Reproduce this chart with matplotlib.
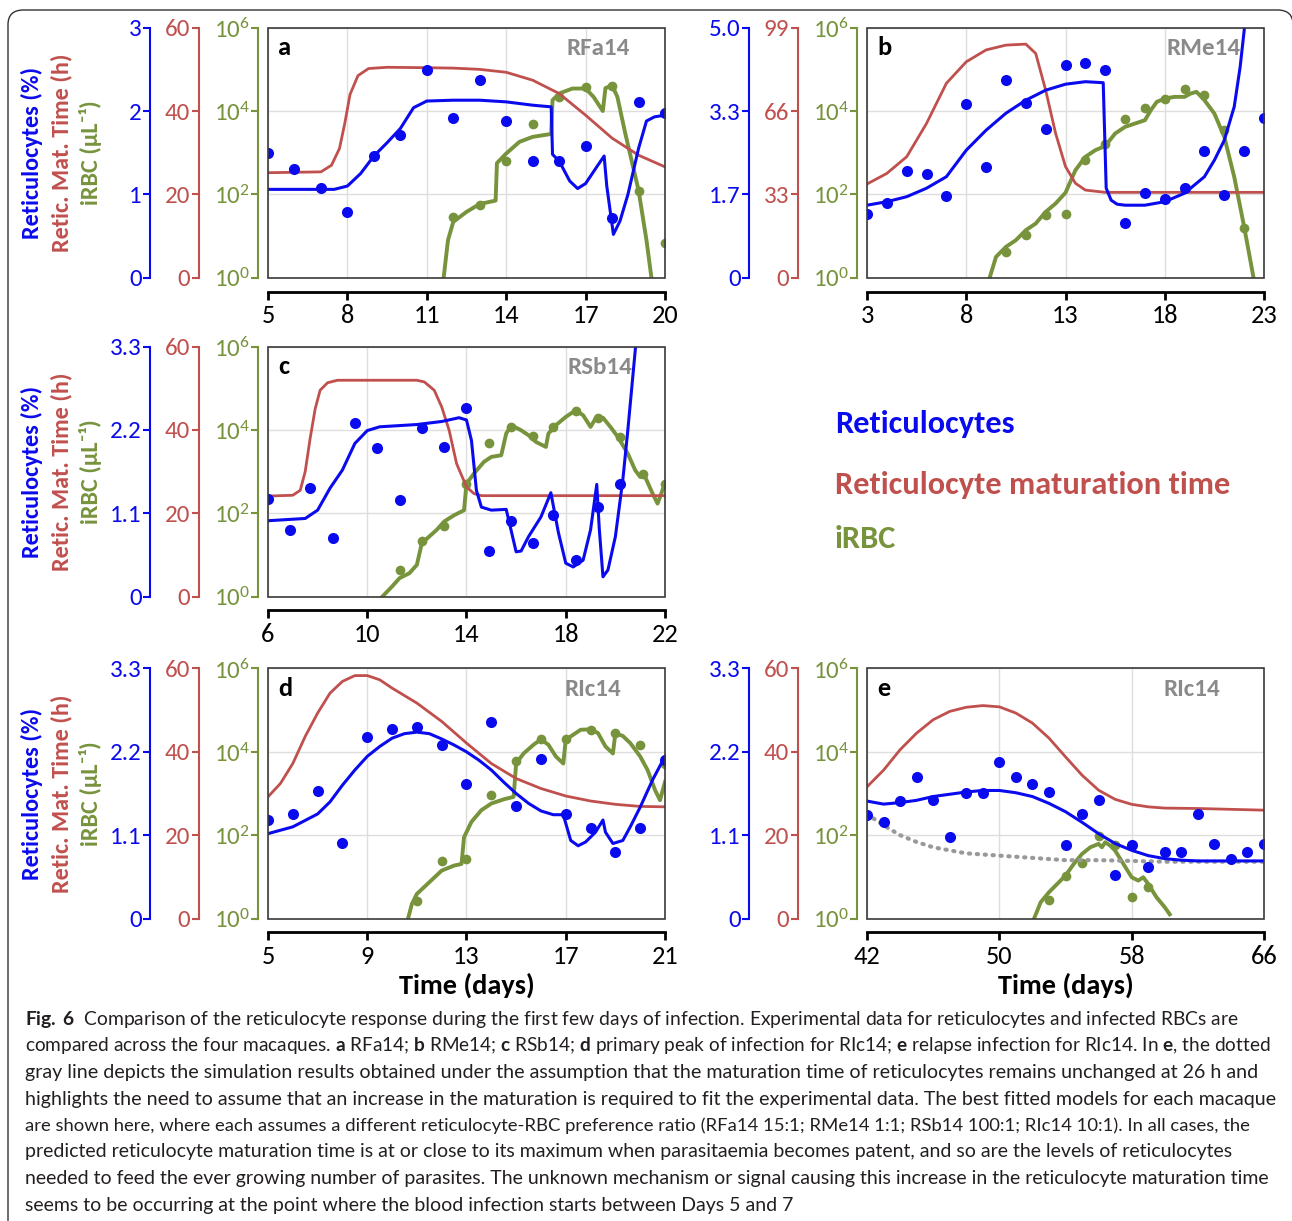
import numpy as np
import matplotlib
matplotlib.use('Agg')
import matplotlib.pyplot as plt
import matplotlib.ticker as mticker
from matplotlib import font_manager
from matplotlib.patches import FancyBboxPatch, Rectangle

# ---------------- data ----------------
# panel a (RFa14)
a_ret_day = [5, 6, 7, 8, 9, 10, 11, 12, 13, 14, 15, 16, 17, 18, 19, 20]
a_ret = [1.50, 1.30, 1.08, 0.79, 1.46, 1.71, 2.49, 1.92, 2.37, 1.88, 1.40, 1.40, 1.58, 0.72, 2.11, 1.98]
a_ret_fit_day = [5, 7.5, 8, 8.5, 9, 9.5, 10, 10.5, 11, 12, 13, 14, 15, 15.7, 15.75, 16, 16.4, 16.7, 17,
                 17.4, 17.7, 17.8, 18.05, 18.3, 18.6, 19.0, 19.3, 19.6, 20]
a_ret_fit = [1.06, 1.06, 1.10, 1.25, 1.46, 1.62, 1.79, 2.04, 2.12, 2.13, 2.13, 2.11, 2.07, 2.05, 1.48, 1.40,
             1.16, 1.07, 1.13, 1.32, 1.46, 1.10, 0.52, 0.68, 1.00, 1.55, 1.88, 1.93, 1.95]
a_mat_day = [5, 7.0, 7.4, 7.7, 7.9, 8.1, 8.4, 8.8, 9.5, 11, 12, 13, 14, 15, 16, 17, 18, 19, 20]
a_mat = [25.2, 25.4, 27.0, 31, 37, 44, 48.5, 50.2, 50.5, 50.4, 50.3, 50.0, 49.3, 47.4, 44.2, 39.0, 33.5, 29.4, 26.6]
a_irbc_day = [12, 13, 14, 15, 16, 17, 18, 19, 20]
a_irbc_log = [1.45, 1.74, 2.80, 3.68, 4.34, 4.57, 4.61, 2.08, 0.84]
a_irbc_fit_day = [11.6, 11.8, 12, 12.5, 13, 13.6, 13.65, 14, 14.5, 15, 15.7, 15.75, 16, 16.5, 17, 17.3,
                  17.65, 17.75, 18, 18.2, 18.5, 19, 19.3, 19.55]
a_irbc_fit_log = [-0.2, 0.9, 1.34, 1.58, 1.77, 1.85, 2.75, 2.98, 3.26, 3.38, 3.45, 4.26, 4.42, 4.54, 4.54,
                  4.34, 4.0, 4.55, 4.62, 4.34, 3.46, 2.10, 0.9, -0.3]

# panel b (RMe14)
b_ret_day = list(range(3, 24))
b_ret = [1.27, 1.50, 2.14, 2.08, 1.64, 3.47, 2.21, 3.95, 3.50, 2.98, 4.25, 4.30, 4.15, 1.09, 1.69, 1.57,
         1.79, 2.53, 1.65, 2.53, 3.20]
b_ret_fit_day = [3, 4, 5, 6, 7, 8, 9, 10, 11, 12, 13, 14, 14.9, 15.05, 15.3, 15.6, 16, 17, 18, 19, 20,
                 20.5, 21, 21.5, 21.8, 22.1]
b_ret_fit = [1.45, 1.52, 1.62, 1.79, 2.02, 2.55, 2.95, 3.29, 3.55, 3.75, 3.87, 3.92, 3.90, 1.79, 1.55,
             1.47, 1.45, 1.45, 1.52, 1.69, 2.02, 2.35, 2.75, 3.42, 4.22, 5.3]
b_mat_day = [3, 4, 5, 6, 7, 8, 9, 10, 11, 11.5, 12, 12.5, 13, 13.5, 14, 15, 23]
b_mat = [37.1, 41.3, 47.9, 61.1, 77, 85.5, 90.2, 92.1, 92.5, 88.8, 74.3, 57.2, 44, 37.4, 34.7, 33.8, 33.8]
b_irbc_day = [10, 11, 12, 13, 14, 15, 16, 17, 18, 19, 20, 21, 22]
b_irbc_log = [0.62, 1.02, 1.50, 1.53, 2.82, 3.22, 3.80, 4.08, 4.30, 4.52, 4.38, 3.54, 1.20]
b_irbc_fit_day = [9.05, 9.5, 10, 10.5, 11, 11.5, 12, 12.5, 13, 13.5, 14, 14.5, 15, 15.5, 16, 16.5, 17,
                  17.3, 17.6, 18, 18.5, 19, 19.3, 19.6, 20, 20.5, 21, 21.5, 22, 22.55]
b_irbc_fit_log = [-0.2, 0.50, 0.74, 0.90, 1.14, 1.30, 1.58, 1.78, 2.04, 2.58, 2.90, 3.06, 3.16, 3.46,
                  3.62, 3.70, 3.78, 4.02, 4.22, 4.30, 4.34, 4.34, 4.42, 4.46, 4.26, 3.94, 3.38, 2.42,
                  1.22, -0.2]

# panel c (RSb14)
c_ret_day = [6.0, 6.9, 7.7, 8.6, 9.5, 10.4, 11.3, 12.2, 13.1, 14.0, 14.9, 15.8, 16.7, 17.5, 18.4, 19.3, 20.2]
c_ret = [1.29, 0.88, 1.43, 0.77, 2.29, 1.96, 1.28, 2.22, 1.97, 2.49, 0.60, 1.00, 0.70, 1.08, 0.48, 1.18, 1.48]
c_ret_fit_day = [6, 7.5, 8, 8.5, 9, 9.5, 10, 10.5, 11, 12, 13, 13.7, 14, 14.2, 14.4, 14.6, 15, 15.6, 16.0,
                 16.2, 16.5, 17, 17.4, 17.7, 18, 18.3, 18.7, 19, 19.25, 19.35, 19.5, 19.7, 20, 20.3,
                 20.5, 20.9]
c_ret_fit = [1.00, 1.03, 1.14, 1.43, 1.67, 2.02, 2.19, 2.24, 2.25, 2.27, 2.31, 2.36, 2.33, 2.06, 1.40,
             1.18, 1.14, 1.15, 0.59, 0.60, 0.79, 1.05, 1.37, 0.85, 0.44, 0.39, 0.48, 0.88, 1.48, 0.90,
             0.26, 0.35, 0.79, 1.54, 2.19, 3.6]
c_mat_day = [6, 7, 7.3, 7.5, 7.7, 7.9, 8.1, 8.4, 8.8, 12, 12.3, 12.7, 13, 13.3, 13.6, 14, 14.3, 14.6, 22]
c_mat = [24.1, 24.3, 25.5, 30, 38, 45, 49.5, 51.3, 51.9, 51.9, 51.5, 49.5, 45.5, 39.9, 31.9, 26.3,
         24.7, 24.2, 24.2]
c_irbc_day = [11.3, 12.2, 13.1, 14.0, 14.9, 15.8, 16.7, 17.5, 18.4, 19.3, 20.2, 21.1, 22.0]
c_irbc_log = [0.64, 1.33, 1.70, 2.71, 3.69, 4.07, 3.85, 4.07, 4.45, 4.28, 3.83, 2.95, 2.71]
c_irbc_fit_day = [10.45, 11, 11.3, 11.7, 12, 12.2, 12.5, 12.8, 13.1, 13.5, 13.9, 14.0, 14.3, 14.7, 15.0,
                  15.4, 15.6, 15.8, 16.2, 16.5, 16.8, 17.2, 17.3, 17.6, 18, 18.4, 18.7, 19, 19.2, 19.5,
                  19.8, 20.1, 20.5, 20.8, 21.0, 21.2, 21.5, 21.7, 21.85, 22]
c_irbc_fit_log = [-0.1, 0.24, 0.44, 0.56, 0.76, 1.28, 1.44, 1.60, 1.80, 1.95, 2.07, 2.71, 2.95, 3.23,
                  3.35, 3.39, 3.91, 4.11, 3.99, 3.87, 3.71, 3.59, 3.91, 4.11, 4.31, 4.47, 4.35, 4.07,
                  4.27, 4.29, 4.07, 3.83, 3.43, 3.03, 2.87, 2.87, 2.47, 2.23, 2.47, 2.73]

# panel d (RIc14, primary peak)
d_ret_day = list(range(5, 22))
d_ret = [1.30, 1.38, 1.68, 1.00, 2.39, 2.50, 2.53, 2.29, 1.77, 2.60, 1.49, 2.10, 1.38, 1.19, 0.88, 1.19, 2.09]
d_ret_fit_day = [5, 6, 7, 7.5, 8, 8.5, 9, 9.5, 10, 10.5, 11, 11.5, 12, 12.5, 13, 13.5, 14, 14.5, 15, 15.5,
                 16, 16.5, 16.9, 17.2, 17.5, 17.8, 18.2, 18.5, 18.6, 18.9, 19.3, 19.6, 20, 20.5, 21]
d_ret_fit = [1.12, 1.21, 1.38, 1.54, 1.76, 1.96, 2.14, 2.27, 2.38, 2.44, 2.46, 2.44, 2.37, 2.29, 2.20,
             2.09, 1.96, 1.80, 1.65, 1.52, 1.42, 1.37, 1.37, 1.03, 0.96, 1.01, 1.14, 1.30, 1.14, 0.99,
             1.03, 1.21, 1.47, 1.83, 2.14]
d_mat_day = [5, 5.5, 6, 6.5, 7, 7.5, 8, 8.5, 9, 9.5, 10, 11, 12, 13, 14, 15, 16, 17, 18, 19, 20, 21]
d_mat = [29.2, 32.4, 37.2, 43.7, 49.3, 54.1, 56.9, 58.3, 58.3, 57.3, 55.3, 51.7, 47.3, 42.1, 37.2, 33.6,
         31.2, 29.4, 28.2, 27.4, 26.9, 26.8]
d_irbc_day = [11, 12, 13, 14, 15, 16, 17, 18, 19, 20, 21]
d_irbc_log = [0.43, 1.38, 1.42, 2.96, 3.79, 4.30, 4.30, 4.53, 4.45, 4.17, 3.70]
d_irbc_fit_day = [10.6, 10.8, 11, 11.5, 12, 12.5, 12.8, 12.9, 13.2, 13.6, 14, 14.5, 14.9, 15.0, 15.3,
                  15.7, 16, 16.3, 16.6, 16.9, 17.0, 17.3, 17.6, 18, 18.3, 18.6, 18.9, 19.0, 19.3, 19.6,
                  20, 20.3, 20.6, 20.8, 21]
d_irbc_fit_log = [-0.1, 0.35, 0.59, 0.87, 1.15, 1.27, 1.31, 1.95, 2.32, 2.60, 2.76, 2.86, 2.92, 3.72,
                  3.96, 4.17, 4.30, 4.17, 3.89, 3.72, 4.29, 4.41, 4.53, 4.54, 4.45, 4.13, 3.96, 4.45,
                  4.38, 4.21, 3.89, 3.56, 3.08, 2.84, 3.28]

# panel e (RIc14, relapse)
e_ret_day = list(range(42, 67))
e_ret = [1.36, 1.27, 1.55, 1.87, 1.57, 1.08, 1.66, 1.66, 2.07, 1.87, 1.78, 1.67, 0.97, 1.38, 1.56, 0.58,
         0.97, 0.68, 0.88, 0.88, 1.38, 0.98, 0.78, 0.88, 0.98]
e_ret_fit_day = list(range(42, 67))
e_ret_fit = [1.55, 1.51, 1.53, 1.56, 1.61, 1.64, 1.67, 1.69, 1.69, 1.66, 1.61, 1.52, 1.41, 1.27, 1.12,
             0.99, 0.90, 0.83, 0.79, 0.77, 0.76, 0.76, 0.76, 0.76, 0.76]
e_const_day = [42, 43, 44, 45, 46, 47, 48, 50, 52, 54, 56, 58, 60, 66]
e_const = [1.38, 1.23, 1.10, 1.01, 0.94, 0.90, 0.86, 0.83, 0.80, 0.77, 0.77, 0.76, 0.75, 0.75]
e_mat_day = [42, 43, 44, 45, 46, 47, 48, 49, 50, 51, 52, 53, 54, 55, 56, 57, 58, 59, 60, 62, 66]
e_mat = [31.6, 35.6, 40.5, 44.5, 47.7, 49.7, 50.7, 51.1, 50.8, 49.3, 46.9, 43.3, 38.8, 34.4, 30.8,
         28.6, 27.4, 26.8, 26.5, 26.4, 26.0]
e_irbc_day = [53, 54, 55, 56, 57, 58, 59]
e_irbc_log = [0.44, 1.01, 1.33, 1.97, 1.77, 0.52, 0.76]
e_irbc_fit_day = [52.05, 52.5, 53, 53.5, 54, 54.5, 55, 55.5, 56, 56.2, 56.4, 56.7, 57, 57.5, 58, 58.4,
                  58.7, 59, 59.5, 60, 60.3]
e_irbc_fit_log = [-0.05, 0.39, 0.63, 0.83, 1.03, 1.31, 1.55, 1.71, 1.79, 1.71, 1.83, 1.75, 1.63, 1.31,
                  0.99, 0.91, 0.99, 0.83, 0.51, 0.27, 0.10]

legend_labels = ['Reticulocytes', 'Reticulocyte maturation time', 'iRBC']

caption_lines = [
    r'$\mathbf{Fig.\,6}$  Comparison of the reticulocyte response during the first few days of infection. '
    r'Experimental data for reticulocytes and infected RBCs are',
    r'compared across the four macaques. $\mathbf{a}$ RFa14; $\mathbf{b}$ RMe14; $\mathbf{c}$ RSb14; '
    r'$\mathbf{d}$ primary peak of infection for RIc14; $\mathbf{e}$ relapse infection for RIc14. '
    r'In $\mathbf{e}$, the dotted',
    'gray line depicts the simulation results obtained under the assumption that the maturation time of '
    'reticulocytes remains unchanged at 26 h and',
    'highlights the need to assume that an increase in the maturation is required to fit the experimental '
    'data. The best fitted models for each macaque',
    'are shown here, where each assumes a different reticulocyte-RBC preference ratio (RFa14 15:1; '
    'RMe14 1:1; RSb14 100:1; RIc14 10:1). In all cases, the',
    'predicted reticulocyte maturation time is at or close to its maximum when parasitaemia becomes '
    'patent, and so are the levels of reticulocytes',
    'needed to feed the ever growing number of parasites. The unknown mechanism or signal causing this '
    'increase in the reticulocyte maturation time',
    'seems to be occurring at the point where the blood infection starts between Days 5 and 7',
]

# ---------------- style ----------------
avail = {f.name for f in font_manager.fontManager.ttflist}


def pick(*names):
    for n in names:
        if n in avail:
            return n
    return 'DejaVu Sans'


FONT = pick('Carlito', 'Lato', 'Open Sans')
CAPFONT = pick('Liberation Sans Narrow', 'Lato', 'Open Sans')

plt.rcParams['font.family'] = [FONT, 'DejaVu Sans']
plt.rcParams['mathtext.fontset'] = 'custom'
plt.rcParams['mathtext.rm'] = FONT
plt.rcParams['mathtext.bf'] = CAPFONT + ':bold'

BLUE = '#0a0aee'
RED = '#c0504d'
GREEN = '#77933c'
GRAY = '#8a8a8a'

W, H = 1292, 1221
fig = plt.figure(figsize=(W / 100, H / 100), dpi=100)


def rect(l, t, w=397, h=250):
    return [l / W, 1 - (t + h) / H, w / W, h / H]


def fit(txt, target, vertical=False):
    r = fig.canvas.get_renderer()
    bb = txt.get_window_extent(renderer=r)
    size = bb.height if vertical else bb.width
    txt.set_fontsize(txt.get_fontsize() * target / size)
    return txt.get_fontsize()


panels = [
    dict(letter='a', name='RFa14', pos=(268, 27.7), xlim=(5, 20), xticks=[5, 8, 11, 14, 17, 20],
         bmax=3, blab=['0', '1', '2', '3'], rmax=60, rlab=['0', '20', '40', '60'], name_x=0.912),
    dict(letter='b', name='RMe14', pos=(867, 27.7), xlim=(3, 23), xticks=[3, 8, 13, 18, 23],
         bmax=5, blab=['0', '1.7', '3.3', '5.0'], rmax=99, rlab=['0', '33', '66', '99'], name_x=0.94),
    dict(letter='c', name='RSb14', pos=(268, 346.5), xlim=(6, 22), xticks=[6, 10, 14, 18, 22],
         bmax=3.3, blab=['0', '1.1', '2.2', '3.3'], rmax=60, rlab=['0', '20', '40', '60'], name_x=0.917),
    dict(letter='d', name='RIc14', pos=(268, 668.5), xlim=(5, 21), xticks=[5, 9, 13, 17, 21],
         bmax=3.3, blab=['0', '1.1', '2.2', '3.3'], rmax=60, rlab=['0', '20', '40', '60'], name_x=0.89),
    dict(letter='e', name='RIc14', pos=(867, 668.5), xlim=(42, 66), xticks=[42, 50, 58, 66],
         bmax=3.3, blab=['0', '1.1', '2.2', '3.3'], rmax=60, rlab=['0', '20', '40', '60'], name_x=0.89),
]

series = {
    'a': (a_ret_day, a_ret, a_ret_fit_day, a_ret_fit, a_mat_day, a_mat,
          a_irbc_day, a_irbc_log, a_irbc_fit_day, a_irbc_fit_log),
    'b': (b_ret_day, b_ret, b_ret_fit_day, b_ret_fit, b_mat_day, b_mat,
          b_irbc_day, b_irbc_log, b_irbc_fit_day, b_irbc_fit_log),
    'c': (c_ret_day, c_ret, c_ret_fit_day, c_ret_fit, c_mat_day, c_mat,
          c_irbc_day, c_irbc_log, c_irbc_fit_day, c_irbc_fit_log),
    'd': (d_ret_day, d_ret, d_ret_fit_day, d_ret_fit, d_mat_day, d_mat,
          d_irbc_day, d_irbc_log, d_irbc_fit_day, d_irbc_fit_log),
    'e': (e_ret_day, e_ret, e_ret_fit_day, e_ret_fit, e_mat_day, e_mat,
          e_irbc_day, e_irbc_log, e_irbc_fit_day, e_irbc_fit_log),
}

TICK_FS = 18


def side_axis(ax, color, outward, ymax, labels):
    ax.set_ylim(0, ymax)
    ax.yaxis.tick_left()
    for s in ('right', 'top', 'bottom'):
        ax.spines[s].set_visible(False)
    ax.spines['left'].set_visible(True)
    ax.spines['left'].set_position(('outward', outward))
    ax.spines['left'].set_color(color)
    ax.spines['left'].set_linewidth(1.5)
    ax.set_yticks(np.linspace(0, ymax, 4))
    ax.set_yticklabels(labels)
    ax.tick_params(axis='y', colors=color, direction='out', length=5, width=1.5,
                   labelsize=TICK_FS, pad=1)


for cfg in panels:
    (rday, rv, rfd, rf, mday, mv, iday, ilog, ifd, iflog) = series[cfg['letter']]

    axg = fig.add_axes(rect(*cfg['pos']))
    axg.set_yscale('log')
    axg.set_ylim(1, 1e6)
    axg.set_xlim(*cfg['xlim'])
    axg.set_xticks(cfg['xticks'])
    axg.set_xticklabels([str(t) for t in cfg['xticks']])
    axg.set_yticks([1, 1e2, 1e4, 1e6])
    axg.set_yticklabels([r'$\mathregular{10^{%d}}$' % k for k in (0, 2, 4, 6)])
    axg.yaxis.set_minor_locator(mticker.NullLocator())
    axg.grid(True, color='#dedede', lw=1.0)
    axg.set_axisbelow(True)
    for s in ('top', 'right'):
        axg.spines[s].set_visible(False)
    axg.spines['left'].set_position(('outward', 7))
    axg.spines['left'].set_color(GREEN)
    axg.spines['left'].set_linewidth(1.5)
    axg.spines['bottom'].set_position(('outward', 10))
    axg.spines['bottom'].set_color('black')
    axg.spines['bottom'].set_linewidth(2)
    axg.tick_params(axis='y', colors=GREEN, direction='out', length=5, width=1.5,
                    labelsize=TICK_FS, pad=1)
    axg.tick_params(axis='x', colors='black', direction='out', length=6, width=2,
                    labelsize=TICK_FS + 1, pad=3)

    axg.plot(ifd, 10.0 ** np.array(iflog), color=GREEN, lw=2.8, solid_joinstyle='round')
    axg.plot(iday, 10.0 ** np.array(ilog), 'o', color=GREEN, ms=7, mec='none')

    axr = axg.twinx()
    side_axis(axr, RED, 50, cfg['rmax'], cfg['rlab'])
    axr.plot(mday, mv, color=RED, lw=2.0)

    axb = axg.twinx()
    side_axis(axb, BLUE, 85, cfg['bmax'], cfg['blab'])
    if cfg['letter'] == 'e':
        axb.plot(e_const_day, e_const, color='#999999', lw=3, linestyle=(0, (0.3, 1.6)),
                 dash_capstyle='round')
    axb.plot(rfd, rf, color=BLUE, lw=2.2)
    axb.plot(rday, rv, 'o', color=BLUE, ms=8, mec='none')

    axb.add_patch(Rectangle((0, 0), 1, 1, transform=axb.transAxes, fill=False,
                            ec='#3a3a3a', lw=1.2, clip_on=False, zorder=10))
    axb.text(0.025, 0.965, cfg['letter'], transform=axb.transAxes, ha='left', va='top',
             fontsize=19, fontweight='bold', color='black')
    axb.text(cfg['name_x'], 0.915, cfg['name'], transform=axb.transAxes, ha='right', va='center',
             fontsize=18, fontweight='bold', color=GRAY)

# rotated axis titles for the left column
for letter in ('a', 'c', 'd'):
    t = [p for p in panels if p['letter'] == letter][0]['pos'][1]
    yc = 1 - (t + 125) / H
    t1 = fig.text(32 / W, yc, 'Reticulocytes (%)', rotation=90, ha='center', va='center',
                  color=BLUE, fontsize=15, fontweight='bold')
    t2 = fig.text(61 / W, yc, 'Retic. Mat. Time (h)', rotation=90, ha='center', va='center',
                  color=RED, fontsize=15, fontweight='bold')
    t3 = fig.text(91 / W, yc, 'iRBC (µL⁻¹)', rotation=90, ha='center', va='center',
                  color=GREEN, fontsize=15, fontweight='bold', family=[FONT, 'DejaVu Sans'])
    fs = fit(t2, 199, vertical=True)
    t1.set_fontsize(fs)
    t3.set_fontsize(fs)

for letter in ('d', 'e'):
    l = [p for p in panels if p['letter'] == letter][0]['pos'][0]
    tx = fig.text((l + 198.5) / W, 1 - 985 / H, 'Time (days)', ha='center', va='center',
                  fontsize=18, fontweight='bold', color='black')
    fit(tx, 136)

# colour key in the empty slot
key = [fig.text(835 / W, 1 - y / H, lab, ha='left', va='center', color=col,
                fontsize=19, fontweight='bold')
       for lab, col, y in zip(legend_labels, [BLUE, RED, GREEN], [424, 485, 539])]
kfs = fit(key[1], 395)
for k in key:
    k.set_fontsize(kfs)

# caption, each line sized to the width it takes in the original
cap_y = [1020, 1046, 1072.5, 1099, 1125.5, 1152, 1178.5, 1205]
cap_end = [1234, 1265, 1252, 1274, 1245, 1228, 1262]
cap_txt = [fig.text(25 / W, 1 - y / H, s, ha='left', va='center', fontsize=13,
                    family=CAPFONT, color='#231f20')
           for s, y in zip(caption_lines, cap_y)]
sizes = [fit(t, e - 25) for t, e in zip(cap_txt[:-1], cap_end)]
cap_txt[-1].set_fontsize(float(np.median(sizes)))

# rounded outer frame
fig.patches.append(FancyBboxPatch((8 / W, -0.05), (1293 - 8) / W, 1.05 - 10 / H,
                                  boxstyle='round,pad=0,rounding_size=0.012',
                                  transform=fig.transFigure, fill=False, ec='#333333', lw=1.0))

fig.savefig('out.png', dpi=100)
